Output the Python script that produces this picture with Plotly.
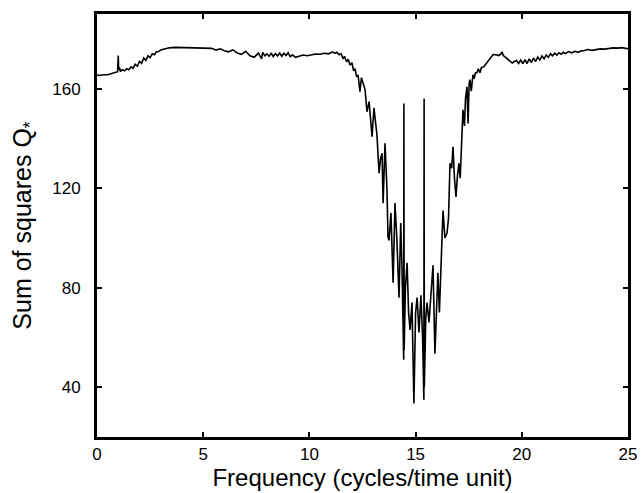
import plotly.graph_objects as go

freq = [
    0.0, 0.1, 0.2, 0.3, 0.4, 0.5, 0.6, 0.7, 0.8, 0.9, 0.97, 1.0, 1.02, 1.06, 1.1, 1.2, 1.3, 1.4, 1.5,
    1.6, 1.7, 1.8, 1.9, 2.0, 2.1, 2.2, 2.3, 2.4, 2.5, 2.6, 2.7, 2.8, 2.9, 3.0, 3.2, 3.4, 3.7, 4.0,
    4.5, 5.0, 5.4, 5.6, 5.8, 6.0, 6.2, 6.4, 6.6, 6.8, 7.0, 7.2, 7.4, 7.6, 7.75, 7.8, 7.9, 8.0, 8.1,
    8.2, 8.3, 8.4, 8.5, 8.6, 8.7, 8.8, 8.9, 9.0, 9.1, 9.2, 9.35, 9.5, 9.7, 9.9, 10.1, 10.3, 10.5,
    10.7, 10.9, 11.1, 11.2, 11.3, 11.4, 11.5, 11.58, 11.65, 11.75, 11.83, 11.91, 12.0, 12.08,
    12.15, 12.22, 12.29, 12.38, 12.45, 12.52, 12.62, 12.71, 12.81, 12.95, 13.04, 13.12, 13.18,
    13.28, 13.35, 13.42, 13.47, 13.56, 13.65, 13.70, 13.75, 13.84, 13.94, 14.03, 14.12, 14.22,
    14.30, 14.36, 14.44, 14.45, 14.46, 14.52, 14.60, 14.67, 14.74, 14.83, 14.92, 15.0, 15.07,
    15.16, 15.25, 15.33, 15.39, 15.40, 15.41, 15.48, 15.54, 15.63, 15.75, 15.82, 15.91, 16.0,
    16.05, 16.12, 16.2, 16.29, 16.38, 16.48, 16.55, 16.62, 16.70, 16.76, 16.83, 16.90, 16.97,
    17.04, 17.1, 17.23, 17.3, 17.35, 17.42, 17.47, 17.52, 17.56, 17.62, 17.70, 17.75, 17.82,
    17.89, 17.95, 18.03, 18.1, 18.2, 18.36, 18.5, 18.65, 18.8, 18.9, 19.0, 19.07, 19.12, 19.2,
    19.35, 19.45, 19.55, 19.65, 19.75, 19.85, 19.95, 20.05, 20.15, 20.25, 20.35, 20.45, 20.55,
    20.65, 20.75, 20.85, 20.95, 21.05, 21.15, 21.25, 21.35, 21.45, 21.55, 21.65, 21.75, 21.85,
    21.95, 22.05, 22.2, 22.35, 22.5, 22.65, 22.8, 22.95, 23.1, 23.3, 23.5, 23.7, 23.9, 24.1,
    24.3, 24.5, 24.7, 24.9, 25.0,
]

sum_sq = [
    165.5, 165.3, 165.5, 165.4, 165.6, 165.6, 165.9, 166.0, 166.3, 166.6, 166.8, 173.3, 167.5, 168.5, 167.0, 167.6, 167.2, 168.0, 167.6,
    168.8, 168.2, 169.8, 169.0, 171.0, 170.2, 172.3, 171.4, 173.2, 172.5, 174.0, 173.6, 174.8, 174.9, 175.5, 176.0, 176.4, 176.6, 176.6,
    176.5, 176.3, 176.2, 175.5, 176.0, 175.2, 174.8, 175.6, 174.3, 173.8, 175.0, 173.2, 172.6, 174.3, 172.0, 174.6, 173.2, 174.0, 173.0,
    174.2, 172.9, 174.1, 173.1, 174.3, 173.0, 174.2, 173.3, 174.4, 172.8, 173.6, 172.6, 173.0, 173.5, 173.2, 173.6, 173.9, 173.8,
    174.2, 174.0, 174.8, 174.2, 174.6, 173.6, 174.0, 172.0, 173.0, 170.8, 171.8, 169.5, 170.4, 167.2,
    168.0, 164.8, 165.5, 158.8, 164.4, 162.5, 159.6, 150.7, 154.8, 140.7, 152.3, 146.0, 141.5,
    126.0, 132.0, 134.0, 114.0, 138.0, 120.0, 100.4, 99.0, 110.0, 82.0, 114.0, 99.0, 76.0,
    106.0, 88.0, 51.0, 154.0, 55.0, 80.0, 90.0, 70.0, 63.0, 74.0, 33.5, 70.0, 76.0,
    62.0, 77.0, 60.0, 35.0, 156.0, 40.0, 68.0, 74.0, 66.0, 80.0, 89.0, 53.5, 75.0,
    86.0, 70.0, 92.0, 111.0, 100.0, 102.0, 108.0, 130.0, 128.0, 136.6, 124.0, 116.5, 125.0,
    130.0, 124.0, 151.5, 145.0, 156.0, 160.8, 146.0, 162.0, 163.6, 159.0, 165.6, 164.0, 166.4,
    166.4, 168.0, 166.4, 168.5, 168.7, 170.5, 172.0, 173.7, 173.6, 173.3, 173.8, 174.8, 173.4, 172.8,
    171.7, 171.0, 170.3, 170.9, 171.4, 170.1, 171.5, 170.0, 171.7, 170.1, 172.0, 170.5, 172.3,
    170.9, 172.7, 171.5, 173.1, 172.0, 173.5, 172.6, 174.0, 173.2, 174.3, 173.5, 174.4, 173.8,
    174.6, 174.1, 174.9, 174.4, 175.0, 174.6, 175.2, 175.3, 175.7, 175.4, 175.8, 176.0, 175.9, 176.3,
    176.4, 176.3, 176.5, 176.2, 176.1,
]

x_ticks = [0, 5, 10, 15, 20, 25]
y_ticks = [40, 80, 120, 160]

FONT = "Liberation Sans, Arial, sans-serif"

fig = go.Figure()
fig.add_trace(go.Scatter(x=freq, y=sum_sq, mode="lines",
                         line=dict(color="black", width=1.6), showlegend=False))

axis_common = dict(
    showgrid=False, zeroline=False, showline=True, linecolor="black", linewidth=3,
    mirror="ticks", ticks="inside", ticklen=5, tickwidth=2, tickcolor="black",
    tickfont=dict(family=FONT, size=17, color="black"), automargin=False,
)

fig.update_layout(
    width=644, height=493,
    margin=dict(l=97, r=16, t=14, b=56),
    paper_bgcolor="white", plot_bgcolor="white",
    xaxis=dict(range=[0, 25], tickvals=x_ticks, ticktext=[str(v) for v in x_ticks],
               ticklabelstandoff=0,
               title=dict(text="Frequency (cycles/time unit)", standoff=2,
                          font=dict(family=FONT, size=24, color="black")),
               **axis_common),
    yaxis=dict(range=[20, 190], tickvals=y_ticks, ticktext=[str(v) for v in y_ticks],
               ticklabelstandoff=10,
               title=dict(text="Sum of squares Q<sub>*</sub>", standoff=14,
                          font=dict(family=FONT, size=25, color="black")),
               **axis_common),
)

fig.write_html("out.html")
